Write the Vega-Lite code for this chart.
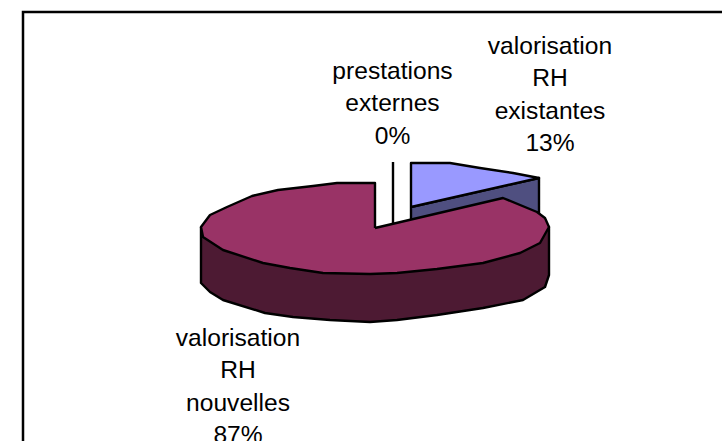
{
"$schema":"https://vega.github.io/schema/vega-lite/v6.json",
"autosize":{"type":"none"},"width":722,"height":441,"padding":0,
"background":"white","config":{"view":{"stroke":null}},
"datasets":{
"outlines":[
{"piece":"small_wall","i":1,"x":36,"y":21},{"piece":"small_wall","i":2,"x":164,"y":50},{"piece":"small_wall","i":3,"x":164,"y":14},{"piece":"small_wall","i":4,"x":36,"y":5},{"piece":"small_wall","i":5,"x":36,"y":21},
{"piece":"small_top","i":1,"x":36,"y":21},{"piece":"small_top","i":2,"x":36,"y":65},{"piece":"small_top","i":3,"x":75,"y":65},{"piece":"small_top","i":4,"x":105,"y":60},{"piece":"small_top","i":5,"x":138,"y":55},{"piece":"small_top","i":6,"x":164,"y":50},{"piece":"small_top","i":7,"x":36,"y":21},
{"piece":"zero","i":1,"x":18,"y":66},{"piece":"zero","i":2,"x":18,"y":5},
{"piece":"big_wall","i":1,"x":-174,"y":1},{"piece":"big_wall","i":2,"x":-174,"y":-55},{"piece":"big_wall","i":3,"x":-165,"y":-64},{"piece":"big_wall","i":4,"x":-152,"y":-72},{"piece":"big_wall","i":5,"x":-110,"y":-85},{"piece":"big_wall","i":6,"x":-82,"y":-89},{"piece":"big_wall","i":7,"x":-45,"y":-92},{"piece":"big_wall","i":8,"x":-5,"y":-94},{"piece":"big_wall","i":9,"x":22,"y":-92},{"piece":"big_wall","i":10,"x":62,"y":-87},{"piece":"big_wall","i":11,"x":108,"y":-80},{"piece":"big_wall","i":12,"x":148,"y":-72},{"piece":"big_wall","i":13,"x":170,"y":-59},{"piece":"big_wall","i":14,"x":174,"y":-47},{"piece":"big_wall","i":15,"x":174,"y":1},{"piece":"big_wall","i":16,"x":0,"y":-12},{"piece":"big_wall","i":17,"x":-174,"y":1},
{"piece":"big_top","i":1,"x":0,"y":0},{"piece":"big_top","i":2,"x":0,"y":45},{"piece":"big_top","i":3,"x":-38,"y":45},{"piece":"big_top","i":4,"x":-62,"y":42},{"piece":"big_top","i":5,"x":-97,"y":38},{"piece":"big_top","i":6,"x":-123,"y":32},{"piece":"big_top","i":7,"x":-148,"y":21},{"piece":"big_top","i":8,"x":-165,"y":13},{"piece":"big_top","i":9,"x":-174,"y":1},{"piece":"big_top","i":10,"x":-172,"y":-9},{"piece":"big_top","i":11,"x":-152,"y":-22},{"piece":"big_top","i":12,"x":-112,"y":-35},{"piece":"big_top","i":13,"x":-85,"y":-40},{"piece":"big_top","i":14,"x":-52,"y":-45},{"piece":"big_top","i":15,"x":-5,"y":-46},{"piece":"big_top","i":16,"x":22,"y":-45},{"piece":"big_top","i":17,"x":62,"y":-41},{"piece":"big_top","i":18,"x":108,"y":-35},{"piece":"big_top","i":19,"x":145,"y":-25},{"piece":"big_top","i":20,"x":165,"y":-15},{"piece":"big_top","i":21,"x":174,"y":1},{"piece":"big_top","i":22,"x":170,"y":10},{"piece":"big_top","i":23,"x":162,"y":16},{"piece":"big_top","i":24,"x":128,"y":30},{"piece":"big_top","i":25,"x":0,"y":0},
{"piece":"frame","i":1,"x":-352,"y":-213},{"piece":"frame","i":2,"x":-352,"y":216},{"piece":"frame","i":3,"x":347,"y":216}
],
"labels":[
{"label":"valorisation\nRH\nexistantes\n13%","x":175,"y":174},
{"label":"prestations\nexternes\n0%","x":17.5,"y":149},
{"label":"valorisation\nRH\nnouvelles\n87%","x":-137,"y":-118}
]},
"encoding":{"x":{"field":"x","type":"quantitative","scale":{"domain":[-375,347],"nice":false,"zero":false},"axis":null},"y":{"field":"y","type":"quantitative","scale":{"domain":[-213,228],"nice":false,"zero":false},"axis":null}},
"layer":[
{"data":{"name":"outlines"},"transform":[{"filter":"datum.piece==='small_wall'"}],"mark":{"type":"line","fill":"#4f4f80","stroke":"black","strokeWidth":2.4,"strokeJoin":"round"},"encoding":{"order":{"field":"i","type":"quantitative"}}},
{"data":{"name":"outlines"},"transform":[{"filter":"datum.piece==='small_top'"}],"mark":{"type":"line","fill":"#9999ff","stroke":"black","strokeWidth":2.4,"strokeJoin":"round"},"encoding":{"order":{"field":"i","type":"quantitative"}}},
{"data":{"name":"outlines"},"transform":[{"filter":"datum.piece==='zero'"}],"mark":{"type":"line","stroke":"black","strokeWidth":2.4},"encoding":{"order":{"field":"i","type":"quantitative"}}},
{"data":{"name":"outlines"},"transform":[{"filter":"datum.piece==='big_wall'"}],"mark":{"type":"line","fill":"#4d1a33","stroke":"black","strokeWidth":2.4,"strokeJoin":"round"},"encoding":{"order":{"field":"i","type":"quantitative"}}},
{"data":{"name":"outlines"},"transform":[{"filter":"datum.piece==='big_top'"}],"mark":{"type":"line","fill":"#993366","stroke":"black","strokeWidth":2.4,"strokeJoin":"round"},"encoding":{"order":{"field":"i","type":"quantitative"}}},
{"data":{"name":"outlines"},"transform":[{"filter":"datum.piece==='frame'"}],"mark":{"type":"line","stroke":"black","strokeWidth":2.5,"strokeJoin":"miter"},"encoding":{"order":{"field":"i","type":"quantitative"}}},
{"data":{"name":"labels"},"mark":{"type":"text","font":"Liberation Sans","fontSize":24.6,"lineBreak":"\n","lineHeight":32.3,"align":"center","baseline":"alphabetic","color":"black"},"encoding":{"text":{"field":"label","type":"nominal"}}}
]}
